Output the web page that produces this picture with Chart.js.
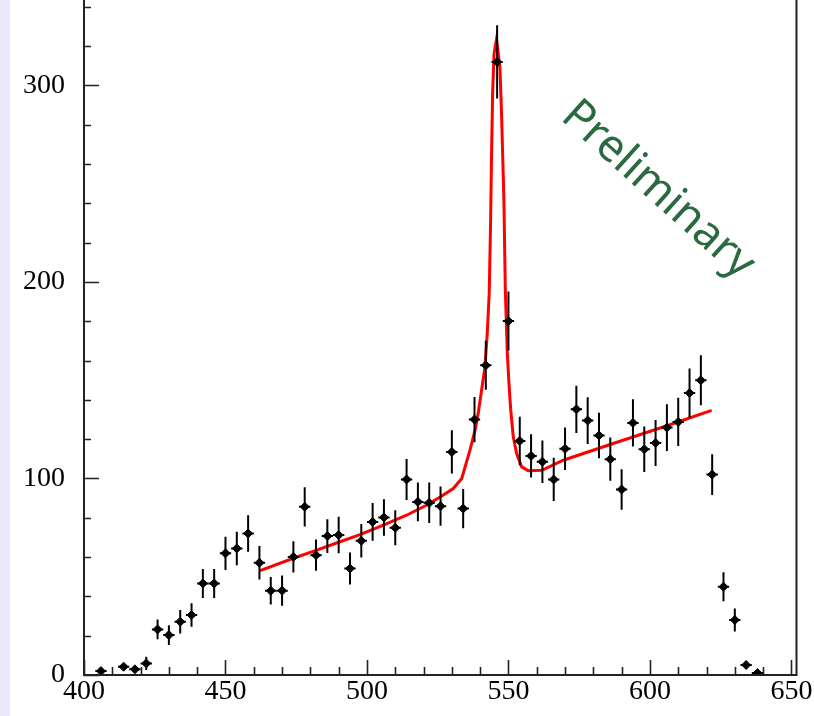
<!DOCTYPE html>
<html>
<head>
<meta charset="utf-8">
<script src="https://cdn.jsdelivr.net/npm/chart.js@4/dist/chart.umd.min.js"></script>
<style>
html,body{margin:0;padding:0;background:#fff;}
canvas{display:block;}
</style>
</head>
<body>
<canvas id="c" width="814" height="716"></canvas>
<script>
// ---- data ----
const binCenters = [406,414,418,422,426,430,434,438,442,446,450,454,458,462,466,470,474,478,482,486,490,494,498,502,506,510,514,518,522,526,530,534,538,542,546,550,554,558,562,566,570,574,578,582,586,590,594,598,602,606,610,614,618,622,626,630,634,638];
const counts = [2,4.2,2.9,5.9,23.2,20.3,27.1,30.5,46.6,46.6,61.9,64.4,72,57.1,42.9,42.9,60.1,85.6,61,70.7,71.2,54.2,68.3,77.9,80.2,74.9,99.5,88.1,87.6,85.9,113.5,84.7,130,157.6,312,180.1,119.1,111.5,108.5,99.5,115.1,135.2,129.5,121.9,109.8,94.4,128.3,114.9,118.1,125.9,128.8,143.5,150,102,44.9,28,5.1,1];
const countErrors = [1.5,2,1.7,3.4,5,5,6,6,7.4,7.4,8.5,8.5,9.3,8.5,7,7.7,8,10,8,8.6,9.3,8.2,8.5,9.6,9.3,8.9,10.4,9.9,10.3,10,11,10,11.5,12.5,18.6,15,12.3,11,10.8,11,10.8,12,11.9,11.6,11,10.3,12,11.6,11.7,11.9,12.3,12.5,12.7,10.4,7.4,5.9,2,1];
const binHalfWidth = 2;
const fitX = [462,474,482,490.5,497.5,505.8,514,521,526,530.5,533.5,536.4,538.2,539.3,541.7,542.5,543.2,543.7,544,544.4,544.9,545.8,547,547.6,548.4,548.9,549.6,550.2,550.8,551.7,552.9,554.7,557,561.8,569.4,587,604.7,621.8];
const fitY = [53,59.4,63.4,67.8,71.4,76.3,81.3,86.4,90.7,94.9,100,114.4,124.6,133,156.7,173.7,194,231,261.8,295.7,316,323.7,309,283.8,241.5,195.7,163.5,148,135,121.2,112.7,105.9,103.9,104.2,109.3,117.8,126.2,134.7];
const xTickValues = [400,450,500,550,600,650];
const yTickValues = [0,100,200,300];
const watermark = "Preliminary";

const pts = binCenters.map((x,i)=>({x:x, y:counts[i]}));
const fit = fitX.map((x,i)=>({x:x, y:fitY[i]}));

const AXIS = '#222';
const bgPlugin = {
  id:'bg',
  beforeDraw(chart){
    const ctx = chart.ctx;
    ctx.save();
    ctx.fillStyle = '#fff';
    ctx.fillRect(0,0,chart.width,chart.height);
    ctx.fillStyle = '#e8e8fa';
    ctx.fillRect(0,0,10,chart.height);
    ctx.restore();
  }
};
const errPlugin = {
  id:'errbars',
  afterDatasetsDraw(chart){
    const ctx = chart.ctx, xs = chart.scales.x, ys = chart.scales.y;
    const a = chart.chartArea;
    ctx.save();
    ctx.beginPath(); ctx.rect(a.left,a.top,a.right-a.left,a.bottom-a.top); ctx.clip();
    ctx.strokeStyle = '#000'; ctx.lineWidth = 2;
    binCenters.forEach((x,i)=>{
      const px = xs.getPixelForValue(x);
      const py = ys.getPixelForValue(counts[i]);
      ctx.beginPath();
      ctx.moveTo(px, ys.getPixelForValue(counts[i]-countErrors[i]));
      ctx.lineTo(px, ys.getPixelForValue(counts[i]+countErrors[i]));
      ctx.moveTo(xs.getPixelForValue(x-binHalfWidth), py);
      ctx.lineTo(xs.getPixelForValue(x+binHalfWidth), py);
      ctx.stroke();
    });
    ctx.restore();
  }
};
const axesPlugin = {
  id:'axesframe',
  afterDraw(chart){
    const ctx = chart.ctx, xs = chart.scales.x, ys = chart.scales.y;
    const a = chart.chartArea;
    ctx.save();
    ctx.strokeStyle = AXIS;
    ctx.lineWidth = 2;
    ctx.beginPath();
    ctx.moveTo(a.left, a.top); ctx.lineTo(a.left, a.bottom); ctx.lineTo(a.right, a.bottom); ctx.lineTo(a.right, a.top);
    ctx.stroke();
    ctx.lineWidth = 1.6;
    ctx.beginPath();
    for(let v=0; v<=ys.max; v+=20){
      const py = Math.round(ys.getPixelForValue(v))+0.5;
      const len = v%100===0 ? 15 : 7;
      ctx.moveTo(a.left, py); ctx.lineTo(a.left+len, py);
    }
    for(let v=400; v<=xs.max; v+=10){
      const px = Math.round(xs.getPixelForValue(v))+0.5;
      const len = v%50===0 ? 15 : 8;
      ctx.moveTo(px, a.bottom); ctx.lineTo(px, a.bottom-len);
    }
    ctx.stroke();
    // watermark
    ctx.fillStyle = '#2b6a41';
    ctx.font = '45px "Noto Sans"';
    ctx.textAlign = 'center'; ctx.textBaseline = 'middle';
    ctx.translate(658, 190);
    ctx.rotate(42*Math.PI/180);
    ctx.fillText(watermark, 0, 0);
    ctx.restore();
  }
};

new Chart(document.getElementById('c'), {
  type:'scatter',
  data:{
    datasets:[
      {label:'data', data:pts, showLine:false, pointStyle:'rectRot', pointRadius:4.5, pointHoverRadius:4.5,
       backgroundColor:'#000', borderColor:'#000', borderWidth:1, order:0},
      {label:'fit', data:fit, showLine:true, pointRadius:0, borderColor:'#ff0000', borderWidth:3, tension:0, fill:false, order:1}
    ]
  },
  options:{
    responsive:false, animation:false, devicePixelRatio:1,
    layout:{autoPadding:false, padding:{left:0,right:17.5,top:0,bottom:0}},
    plugins:{legend:{display:false}, tooltip:{enabled:false}},
    scales:{
      x:{type:'linear', min:400, max:651.8,
         afterBuildTicks:s=>{s.ticks = xTickValues.map(v=>({value:v}));},
         afterFit:s=>{s.height = 41; s.paddingLeft = 0; s.paddingRight = 0;},
         grid:{display:false, drawTicks:false}, border:{display:false},
         ticks:{padding:0, color:'#000', font:{family:'"Liberation Serif"', size:28}, maxRotation:0, autoSkip:false}},
      y:{type:'linear', min:0, max:343.5,
         afterBuildTicks:s=>{s.ticks = yTickValues.map(v=>({value:v}));},
         afterFit:s=>{s.width = 84; s.paddingTop = 0; s.paddingBottom = 0;},
         grid:{display:false, drawTicks:false}, border:{display:false},
         ticks:{padding:19, color:'#000', font:{family:'"Liberation Serif"', size:28}, autoSkip:false}}
    }
  },
  plugins:[bgPlugin, errPlugin, axesPlugin]
});
</script>
</body>
</html>
